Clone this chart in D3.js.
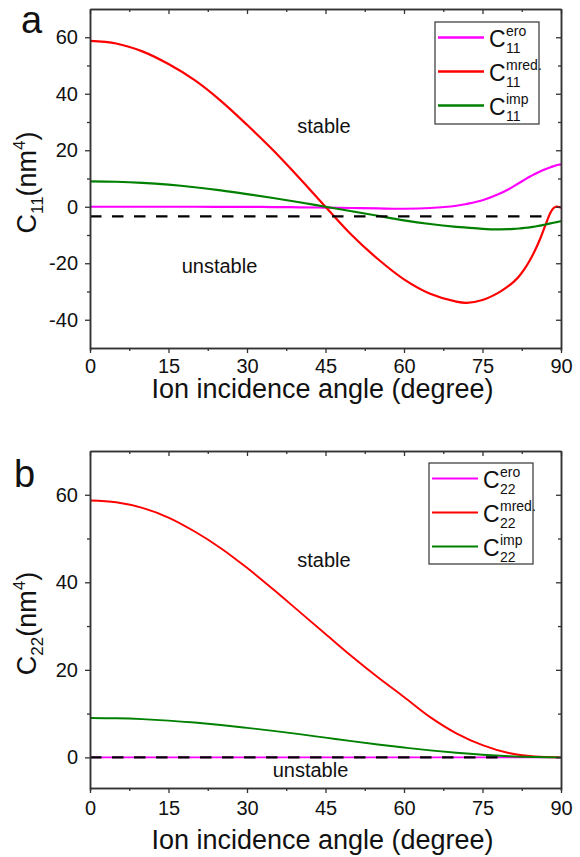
<!DOCTYPE html>
<html>
<head>
    <meta charset="utf-8">
    <style>
        body {
            margin: 0;
            background: #fff;
        }

        svg text {
            font-family: "Liberation Sans", Arial, sans-serif;
            fill: #111;
        }
    </style>
</head>
<body>
    <svg id="chart" width="580" height="857"></svg>
    <script src="https://cdnjs.cloudflare.com/ajax/libs/d3/7.8.5/d3.min.js"></script>
    <script>
        // ---- panel a data ----
        const anglesA = [0, 5, 10, 15, 20, 25, 30, 35, 40, 45, 50, 55, 60, 65, 70, 72, 75, 78, 80, 81, 82, 83, 84, 85, 86, 87, 88, 88.5, 89, 89.5, 90];
        const c11Ero = [0, 0, 0, 0, 0, -0.03, -0.06, -0.1, -0.2, -0.3, -0.45, -0.6, -0.7, -0.45, 0.35, 1.0, 2.3, 4.4, 6.2, 7.3, 8.4, 9.5, 10.6, 11.6, 12.5, 13.3, 14.0, 14.3, 14.6, 14.85, 15.0];
        const c11Mred = [58.7, 57.8, 55.0, 50.5, 44.8, 37.5, 29.0, 20.0, 10.2, 0, -10.0, -18.5, -25.7, -30.8, -33.6, -34.0, -33.0, -30.5, -28.0, -26.5, -24.6, -22.1, -19.1, -15.6, -11.4, -6.6, -2.0, -0.6, 0, -0.05, -0.3];
        const c11Imp = [9.0, 8.85, 8.45, 7.8, 6.9, 5.8, 4.5, 3.1, 1.6, 0, -1.6, -3.2, -4.8, -6.1, -7.1, -7.4, -7.8, -8.0, -7.95, -7.85, -7.7, -7.5, -7.3, -7.0, -6.7, -6.3, -5.9, -5.7, -5.5, -5.3, -5.1];
        const thresholdA = { value: -3.4, from: 0, to: 88 };

        // ---- panel b data ----
        const anglesB = [0, 5, 10, 15, 20, 25, 30, 35, 40, 45, 50, 55, 60, 65, 70, 75, 80, 85, 90];
        const c22Ero = [0, 0, 0, 0, 0, 0, 0, 0, 0, 0, 0, 0, 0, 0, 0, 0, 0, 0, 0];
        const c22Mred = [58.7, 58.3, 57.0, 54.8, 51.6, 47.8, 43.3, 38.4, 33.3, 28.2, 23.1, 18.3, 13.8, 9.2, 5.5, 2.8, 1.0, 0.2, 0];
        const c22Imp = [9.0, 8.93, 8.73, 8.4, 7.95, 7.4, 6.75, 6.05, 5.3, 4.5, 3.7, 2.95, 2.25, 1.6, 1.05, 0.6, 0.27, 0.07, 0];
        const thresholdB = { value: 0, from: 0, to: 78 };

        const xTicks = [0, 15, 30, 45, 60, 75, 90];
        const xMinor = [7.5, 22.5, 37.5, 52.5, 67.5, 82.5];
        const seriesNames = ["ero", "mred.", "imp"];
        const seriesColors = ["#ff00ff", "#ff0000", "#008000"];

        const svg = d3.select("#chart");

        function drawPanel(p) {
            const x = d3.scaleLinear().domain([0, 90]).range([90, 561]);
            const y = d3.scaleLinear().domain(p.yDomain).range([p.bottom, p.top]);
            const g = svg.append("g");
            const axisColor = "#333";

            // curves
            const line = d3.line()
                .x(d => x(d[0]))
                .y(d => y(d[1]))
                .curve(d3.curveCatmullRom.alpha(0.5));

            p.series.forEach((vals, i) => {
                g.append("path")
                    .datum(p.angles.map((a, k) => [a, vals[k]]))
                    .attr("d", line)
                    .attr("fill", "none")
                    .attr("stroke", seriesColors[i])
                    .attr("stroke-width", p.lw);
            });

            // dashed threshold line
            g.append("line")
                .attr("x1", x(p.threshold.from)).attr("x2", x(p.threshold.to))
                .attr("y1", y(p.threshold.value)).attr("y2", y(p.threshold.value))
                .attr("stroke", "#000")
                .attr("stroke-width", 2.4)
                .attr("stroke-dasharray", "11.5,10.5");

            // axes
            const styleAxis = sel => {
                sel.select(".domain").attr("stroke", axisColor).attr("stroke-width", 1.5);
                sel.selectAll(".tick line").attr("stroke", axisColor).attr("stroke-width", 1.3);
                sel.selectAll("text").attr("font-size", 20).attr("fill", "#111")
                    .attr("font-family", "'Liberation Sans', Arial, sans-serif");
            };
            const plain = d => String(d);

            g.append("g").attr("transform", `translate(0,${p.bottom})`)
                .call(d3.axisBottom(x).tickValues(xMinor).tickSize(3).tickFormat(""))
                .call(styleAxis);
            g.append("g").attr("transform", `translate(0,${p.bottom})`)
                .call(d3.axisBottom(x).tickValues(xTicks).tickSize(5).tickPadding(p.xPad).tickSizeOuter(0).tickFormat(plain))
                .call(styleAxis);

            g.append("g").attr("transform", `translate(90,0)`)
                .call(d3.axisLeft(y).tickValues(p.yMinor).tickSize(3).tickFormat("").tickSizeOuter(0))
                .call(styleAxis);
            g.append("g").attr("transform", `translate(90,0)`)
                .call(d3.axisLeft(y).tickValues(p.yTicks).tickSize(5).tickPadding(7).tickSizeOuter(0).tickFormat(plain))
                .call(styleAxis);

            // top and right frame, ticks inward
            g.append("g").attr("transform", `translate(0,${p.top})`)
                .call(d3.axisTop(x).tickValues(xMinor).tickSize(-3).tickFormat("").tickSizeOuter(0))
                .call(styleAxis);
            g.append("g").attr("transform", `translate(0,${p.top})`)
                .call(d3.axisTop(x).tickValues(xTicks).tickSize(-5).tickFormat("").tickSizeOuter(0))
                .call(styleAxis);
            g.append("g").attr("transform", `translate(561,0)`)
                .call(d3.axisRight(y).tickValues(p.yMinor).tickSize(-3).tickFormat("").tickSizeOuter(0))
                .call(styleAxis);
            g.append("g").attr("transform", `translate(561,0)`)
                .call(d3.axisRight(y).tickValues(p.yTicks).tickSize(-5).tickFormat("").tickSizeOuter(0))
                .call(styleAxis);

            // x title
            g.append("text")
                .attr("x", 322.5).attr("y", p.xTitleY)
                .attr("text-anchor", "middle")
                .attr("font-size", 27)
                .text("Ion incidence angle (degree)");

            // y title
            const yt = g.append("text")
                .attr("transform", `translate(36,${(p.top + p.bottom) / 2 + 4}) rotate(-90)`)
                .attr("text-anchor", "middle")
                .attr("font-size", 27);
            yt.append("tspan").text("C");
            yt.append("tspan").attr("font-size", 17).attr("dy", 7).text(p.sub);
            yt.append("tspan").attr("dy", -7).text("(nm");
            yt.append("tspan").attr("font-size", 17).attr("dy", -11).text("4");
            yt.append("tspan").attr("dy", 11).text(")");

            // panel letter
            g.append("text")
                .attr("x", p.letterX).attr("y", p.letterY)
                .attr("font-size", 38)
                .text(p.letter);

            // region labels
            g.append("text").attr("x", p.stable[0]).attr("y", p.stable[1])
                .attr("text-anchor", "middle").attr("font-size", 20).text("stable");
            g.append("text").attr("x", p.unstable[0]).attr("y", p.unstable[1])
                .attr("text-anchor", "middle").attr("font-size", 20).text("unstable");

            // legend
            const L = p.legend;
            g.append("rect")
                .attr("x", L.x).attr("y", L.y).attr("width", L.w).attr("height", L.h)
                .attr("fill", "#fff").attr("stroke", axisColor).attr("stroke-width", 1.2);
            seriesNames.forEach((name, i) => {
                const ly = L.y + 15.5 + i * 34;
                g.append("line")
                    .attr("x1", L.x + 3).attr("x2", L.x + 49)
                    .attr("y1", ly).attr("y2", ly)
                    .attr("stroke", seriesColors[i]).attr("stroke-width", p.lw + 0.3);
                g.append("text").attr("x", L.x + 54).attr("y", ly + 9.5)
                    .attr("font-size", 23).text("C");
                g.append("text").attr("x", L.x + 71).attr("y", ly - 2)
                    .attr("font-size", 14).text(name);
                g.append("text").attr("x", L.x + 71).attr("y", ly + 15)
                    .attr("font-size", 14).text(p.sub);
            });
        }

        drawPanel({
            angles: anglesA,
            series: [c11Ero, c11Mred, c11Imp],
            threshold: thresholdA,
            yDomain: [-50, 70], top: 9, bottom: 348,
            yTicks: [-40, -20, 0, 20, 40, 60], yMinor: [-30, -10, 10, 30, 50],
            xPad: 6, xTitleY: 398, lw: 2.2,
            sub: "11", letter: "a", letterX: 21, letterY: 33,
            stable: [324, 133], unstable: [219.5, 273],
            legend: { x: 435, y: 22, w: 104, h: 102 }
        });

        drawPanel({
            angles: anglesB,
            series: [c22Ero, c22Mred, c22Imp],
            threshold: thresholdB,
            yDomain: [-7, 70], top: 451, bottom: 788,
            yTicks: [0, 20, 40, 60], yMinor: [10, 30, 50],
            xPad: 8, xTitleY: 849, lw: 1.9,
            sub: "22", letter: "b", letterX: 14, letterY: 487,
            stable: [324, 567], unstable: [310.5, 777],
            legend: { x: 429, y: 463, w: 104, h: 101 }
        });
    </script>
</body>
</html>
